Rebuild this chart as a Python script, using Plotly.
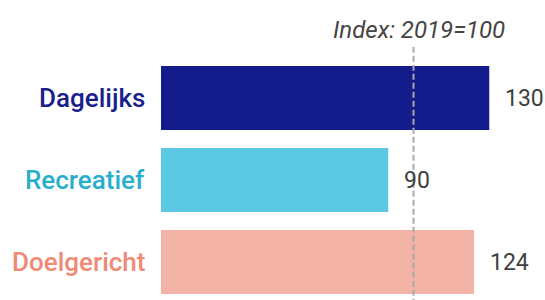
import plotly.graph_objects as go

categories = ["Dagelijks", "Recreatief", "Doelgericht"]
values = [130, 90, 124]
bar_colors = ["#141B8B", "#5BC9E3", "#F4B3A7"]
label_colors = ["#1A1F8C", "#29AECB", "#EE8A76"]
index_value = 100
index_label = "Index: 2019=100"

PX_PER_UNIT = 2.525

fig = go.Figure()
fig.add_trace(go.Bar(
    y=categories, x=values, orientation="h",
    marker=dict(color=bar_colors, line=dict(width=0)),
    hoverinfo="skip",
))

annotations = []
for cat, val, col in zip(categories, values, label_colors):
    annotations.append(dict(
        x=0, xref="paper", y=cat, yref="y", xanchor="right", yanchor="middle",
        xshift=-14, text=cat, showarrow=False,
        font=dict(family="Roboto", size=26, color=col, weight=500),
    ))
    annotations.append(dict(
        x=val, xref="x", y=cat, yref="y", xanchor="left", yanchor="middle",
        xshift=14, text=str(val), showarrow=False,
        font=dict(family="Roboto", size=23, color="#404040"),
    ))
annotations.append(dict(
    x=index_value, xref="x", y=1.111, yref="paper", xanchor="center", yanchor="middle",
    xshift=5, text=f"<i>{index_label}</i>", showarrow=False,
    font=dict(family="Roboto", size=24, color="#454545"),
))

fig.add_shape(type="line", xref="x", yref="paper", x0=index_value, x1=index_value,
              y0=-0.02, y1=1 + 10 / 243,
              line=dict(color="#AAAAAA", width=2, dash="6px,3px"))

fig.update_layout(
    width=545, height=300,
    margin=dict(l=161, r=0, t=57, b=0),
    paper_bgcolor="white", plot_bgcolor="white",
    bargap=0.22, showlegend=False,
    annotations=annotations,
    xaxis=dict(range=[0, 384 / PX_PER_UNIT], visible=False, fixedrange=True),
    yaxis=dict(categoryorder="array", categoryarray=categories,
               range=[2.463, -0.5], visible=False, fixedrange=True),
    font=dict(family="Roboto"),
)

fig.write_html("out.html", config={"displayModeBar": False},
               post_script="document.body.style.margin='0';document.body.style.overflow='hidden';")
